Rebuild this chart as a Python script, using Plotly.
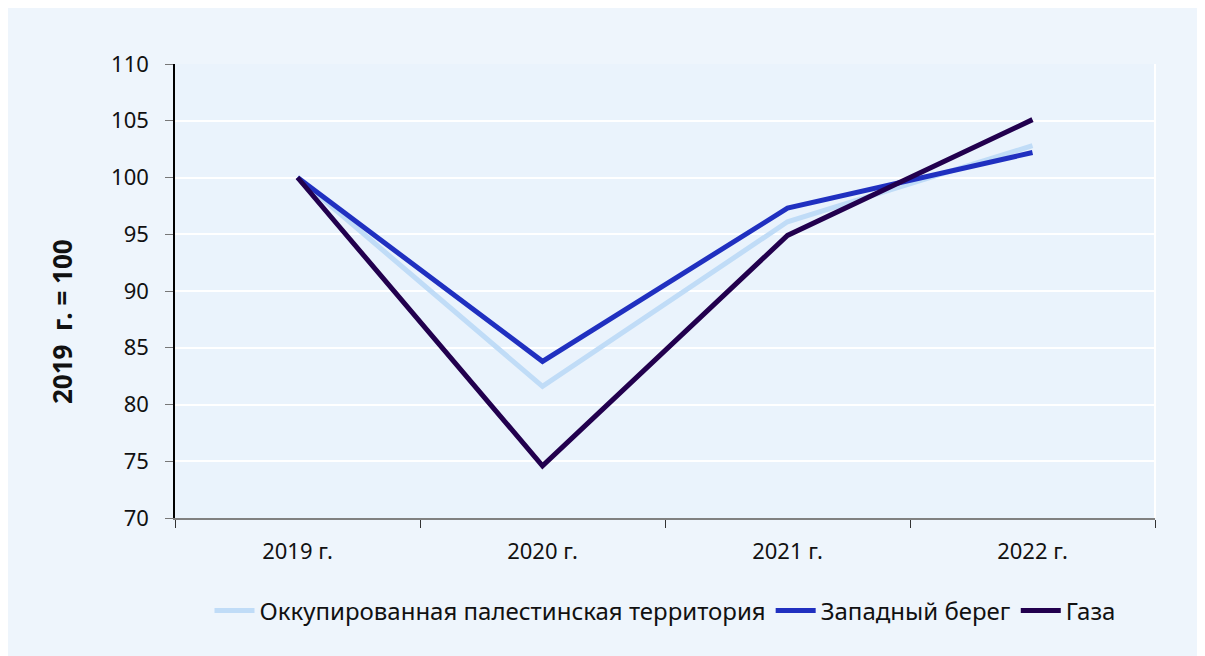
import plotly.graph_objects as go

years = ["2019 г.", "2020 г.", "2021 г.", "2022 г."]
opt = [100, 81.6, 96.1, 102.8]
west_bank = [100, 83.8, 97.3, 102.2]
gaza = [100, 74.6, 94.9, 105.1]
names = ["Оккупированная палестинская территория", "Западный берег", "Газа"]
colors = ["#C0DCF7", "#2030C0", "#22004E"]
y_title = "<b>2019  г. = 100</b>"

# page has an 8px body margin; figure starts at (8, 8)
W, H = 1197, 648
L, R, T, B = 167, 50, 56, 138
pw, ph = W - L - R, H - T - B

fig = go.Figure()
for name, vals, col in zip(names, [opt, west_bank, gaza], colors):
    fig.add_trace(go.Scatter(x=years, y=vals, name=name, mode="lines",
                             line=dict(color=col, width=5)))

fig.update_layout(
    width=W, height=H,
    margin=dict(l=L, r=R, t=T, b=B),
    paper_bgcolor="#EEF5FC",
    plot_bgcolor="#EAF3FC",
    font=dict(family="Noto Sans", color="#111111", size=22),
    showlegend=True,
    legend=dict(orientation="h", x=0.5, xanchor="center", y=-0.155, yanchor="top",
                font=dict(size=24), bgcolor="rgba(0,0,0,0)", itemwidth=40),
    xaxis=dict(showgrid=False, showline=True, linecolor="#808080", linewidth=2,
               range=[-0.5, 3.5],
               ticks="outside", tickson="boundaries", ticklen=8, tickcolor="#333333",
               tickfont=dict(size=22), ticklabelstandoff=13),
    yaxis=dict(range=[70, 110], dtick=5, showgrid=True, gridcolor="white", gridwidth=1.5,
               showline=True, linecolor="black", linewidth=1.5,
               ticks="outside", ticklen=8, tickcolor="#777777",
               tickfont=dict(size=22), zeroline=False, ticklabelstandoff=12),
)
# y-axis title (page x≈62, y≈322 -> figure coords x≈54, y≈314)
fig.add_annotation(text=y_title, textangle=-90, showarrow=False,
                   xref="paper", yref="paper",
                   x=(54 - L) / pw, y=(H - B - 314) / ph,
                   xanchor="center", yanchor="middle",
                   font=dict(size=26, color="#111111"))
fig.add_shape(type="line", xref="paper", yref="paper", x0=1, x1=1, y0=0, y1=1,
              line=dict(color="white", width=2))

fig.write_html("out.html")
